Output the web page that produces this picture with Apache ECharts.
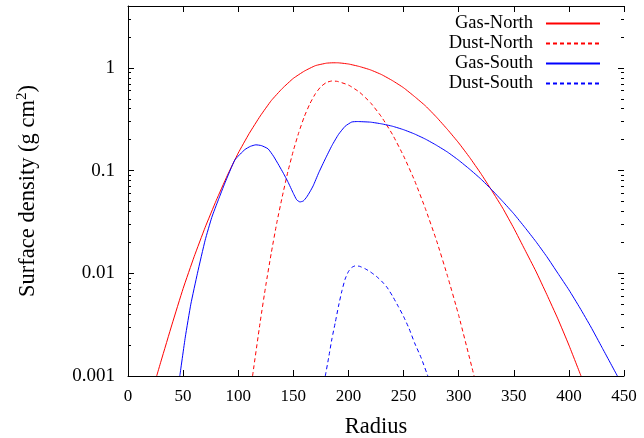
<!DOCTYPE html>
<html lang="en">
    <head>
        <meta charset="UTF-8" />
        <title>Surface density</title>
        <script src="https://cdn.jsdelivr.net/npm/echarts@6/dist/echarts.min.js"></script>
        <style>
            html, body { margin: 0; padding: 0; background: #fff; }
            #chart { width: 644px; height: 438px; }
        </style>
    </head>
    <body>
        <div id="chart"></div>
        <script>
            // values: [radius, surface density]
            const gasNorth = [
                [26, 0.001], [30, 0.0014], [40, 0.0032], [50, 0.0071], [60, 0.0145], [70, 0.028],
                [80, 0.051], [90, 0.089], [100, 0.148], [110, 0.23], [120, 0.34], [130, 0.48],
                [140, 0.63], [150, 0.79], [160, 0.93], [170, 1.05], [180, 1.11], [186, 1.12],
                [190, 1.12], [200, 1.09], [210, 1.03], [220, 0.955], [230, 0.86], [240, 0.75],
                [250, 0.64], [260, 0.525], [270, 0.425], [280, 0.33], [290, 0.25], [300, 0.186],
                [310, 0.134], [320, 0.094], [330, 0.064], [340, 0.043], [350, 0.0275], [360, 0.017],
                [370, 0.0105], [380, 0.0062], [390, 0.0036], [400, 0.002], [411, 0.001]
            ];
            const dustNorth = [
                [113, 0.001], [120, 0.0034], [125, 0.0076], [130, 0.0158], [135, 0.031], [140, 0.056],
                [145, 0.097], [150, 0.156], [155, 0.236], [160, 0.336], [165, 0.447], [170, 0.56],
                [175, 0.656], [180, 0.72], [185, 0.745], [190, 0.738], [200, 0.68], [210, 0.58],
                [220, 0.458], [230, 0.333], [240, 0.224], [250, 0.139], [260, 0.080], [270, 0.042],
                [280, 0.0207], [290, 0.0093], [300, 0.0039], [314, 0.001]
            ];
            const gasSouth = [
                [47, 0.001], [52, 0.0024], [57, 0.005], [63, 0.01], [70, 0.021], [76, 0.035],
                [82, 0.052], [88, 0.076], [97, 0.127], [106, 0.16], [111, 0.172], [116, 0.178],
                [121, 0.175], [127, 0.163], [132, 0.138], [137, 0.112], [141, 0.094], [145, 0.078],
                [150, 0.060], [153, 0.052], [156, 0.0495], [159, 0.0505], [162, 0.055], [165, 0.062],
                [168, 0.071], [173, 0.095], [179, 0.13], [185, 0.175], [191, 0.225], [197, 0.27],
                [203, 0.297], [208, 0.30], [220, 0.296], [230, 0.285], [240, 0.27], [250, 0.25],
                [260, 0.227], [270, 0.202], [280, 0.176], [290, 0.151], [300, 0.126], [310, 0.103],
                [320, 0.083], [330, 0.065], [340, 0.050], [350, 0.038], [360, 0.028], [370, 0.0204],
                [380, 0.0145], [390, 0.010], [400, 0.0069], [410, 0.0046], [420, 0.0030], [430, 0.0019],
                [444, 0.001]
            ];
            const dustSouth = [
                [179, 0.001], [182, 0.0015], [185, 0.0023], [188, 0.0033], [191, 0.0048], [194, 0.0067],
                [197, 0.0088], [200, 0.0104], [203, 0.0114], [206, 0.0118], [210, 0.0117], [215, 0.0111],
                [220, 0.0103], [225, 0.0094], [230, 0.0084], [235, 0.0073], [240, 0.006], [245, 0.0048],
                [250, 0.0038], [255, 0.0029], [260, 0.0021], [266, 0.0015], [272, 0.001]
            ];
            const seriesNames = ["Gas-North", "Dust-North", "Gas-South", "Dust-South"];
            const majorTicks = [0.001, 0.01, 0.1, 1];
            const minorTicks = [
                0.002, 0.003, 0.004, 0.005, 0.006, 0.007, 0.008, 0.009,
                0.02, 0.03, 0.04, 0.05, 0.06, 0.07, 0.08, 0.09,
                0.2, 0.3, 0.4, 0.5, 0.6, 0.7, 0.8, 0.9,
                2, 3
            ];

            const font = "Liberation Serif";
            const black = "#000";

            //helper for the four log axes (left/right, major/minor ticks)
            function yAxis(position, ticks, len, main) {
                return {
                    type: "log",
                    logBase: 10,
                    min: 0.001,
                    max: 4,
                    position: position,
                    name: main ? "Surface density (g cm{sup|2})" : "",
                    nameLocation: "middle",
                    nameGap: 86,
                    nameTextStyle: {
                        fontFamily: font,
                        fontSize: 22.5,
                        color: black,
                        rich: { sup: { fontFamily: font, fontSize: 15, color: black, verticalAlign: "top", padding: [0, 0, 12, 0] } }
                    },
                    axisLine: { show: main, onZero: false, lineStyle: { color: black, width: 1 } },
                    axisTick: { show: true, inside: true, length: len, customValues: ticks, lineStyle: { color: black } },
                    axisLabel: {
                        show: main && position === "left",
                        customValues: majorTicks,
                        fontFamily: font,
                        fontSize: 19,
                        color: black,
                        margin: 13,
                        formatter: v => String(v)
                    },
                    splitLine: { show: false }
                };
            }

            function xAxis(position, main) {
                return {
                    type: "value",
                    min: 0,
                    max: 450,
                    interval: 50,
                    position: position,
                    name: main ? "Radius" : "",
                    nameLocation: "middle",
                    nameGap: 40,
                    nameTextStyle: { fontFamily: font, fontSize: 22.5, color: black },
                    axisLine: { show: true, onZero: false, lineStyle: { color: black, width: 1 } },
                    axisTick: { show: true, inside: true, length: 6, lineStyle: { color: black } },
                    axisLabel: { show: main, fontFamily: font, fontSize: 17, color: black, margin: 12 },
                    splitLine: { show: false }
                };
            }

            function line(name, data, color, dashed) {
                return {
                    name: name,
                    type: "line",
                    data: data,
                    xAxisIndex: 0,
                    yAxisIndex: 0,
                    showSymbol: false,
                    symbol: "none",
                    smooth: 0.15,
                    clip: true,
                    animation: false,
                    itemStyle: { color: color },
                    lineStyle: { color: color, width: 1, type: dashed ? [4, 3] : "solid" }
                };
            }

            //one legend per entry so the samples line up on the right
            const legendTops = [14, 34, 54, 74];
            const legends = seriesNames.map((name, i) => ({
                data: [name],
                right: 43,
                top: legendTops[i],
                padding: 0,
                align: "right",
                itemWidth: 54,
                itemHeight: 20,
                itemStyle: { opacity: 0 },
                textStyle: { fontFamily: font, fontSize: 18.5, color: black, padding: [0, 8, 0, 0] },
                selectedMode: false
            }));

            const chart = echarts.init(document.getElementById("chart"), null, { renderer: "canvas" });
            chart.setOption({
                backgroundColor: "#fff",
                animation: false,
                grid: { left: 128, right: 20, top: 6, bottom: 62, containLabel: false, outerBoundsMode: "none" },
                legend: legends,
                xAxis: [xAxis("bottom", true), xAxis("top", false)],
                yAxis: [
                    yAxis("left", majorTicks, 6, true),
                    yAxis("left", minorTicks, 3, false),
                    yAxis("right", majorTicks, 6, false),
                    yAxis("right", minorTicks, 3, false)
                ],
                series: [
                    line(seriesNames[0], gasNorth, "#ff0000", false),
                    line(seriesNames[1], dustNorth, "#ff0000", true),
                    line(seriesNames[2], gasSouth, "#0000ff", false),
                    line(seriesNames[3], dustSouth, "#0000ff", true)
                ]
            });
        </script>
    </body>
</html>
